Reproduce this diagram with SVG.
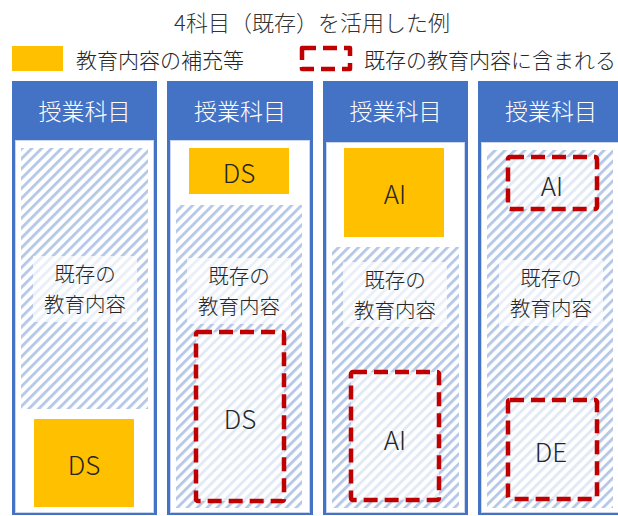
<svg xmlns="http://www.w3.org/2000/svg" width="618" height="516" viewBox="0 0 618 516">
<style>
text{font-family:"Noto Sans CJK JP","Noto Sans",sans-serif;font-weight:300;fill:#262626;text-anchor:middle;dominant-baseline:central}
.hd{fill:#ffffff;font-size:23px}
.lb{font-size:20.5px}
.big{font-size:26px}
.col{fill:#4472C4}
.body{fill:#ffffff;stroke:#C9D6EE;stroke-width:1}
.hatch{fill:url(#hatch)}
.fade{fill:#ffffff;fill-opacity:0.7}
.add{fill:#FFC000}
.inc{fill:#ffffff;fill-opacity:0.6;stroke:#C00000;stroke-width:4.5;stroke-dasharray:14 7;stroke-linejoin:round}
</style>
<defs>
<pattern id="hatch" patternUnits="userSpaceOnUse" width="7" height="7" patternTransform="rotate(45)">
<rect width="7" height="7" fill="#ffffff"/>
<rect x="0" y="0" width="2.8" height="7" fill="#B4C7E7"/>
</pattern>
</defs>
<g id="title"><text x="312" y="21" style="font-size:22px;fill:#333333">4科目（既存）を活用した例</text></g>
<g id="legend">
<rect x="12" y="46" width="51" height="25" class="add"/>
<text x="160" y="59" style="font-size:21px">教育内容の補充等</text>
<rect x="302" y="48" width="48" height="21" fill="none" stroke="#C00000" stroke-width="4.5" stroke-dasharray="14 7" stroke-linejoin="round"/>
<text x="490" y="59" style="font-size:21px">既存の教育内容に含まれる</text>
</g>
<g id="col1">
<rect x="12" y="81" width="145" height="434" class="col"/>
<rect x="15.5" y="140.5" width="138" height="372" class="body"/>
<text x="84.5" y="110" class="hd">授業科目</text>
<rect x="21" y="148" width="127" height="261" class="hatch"/>
<rect x="33" y="256" width="104" height="66" class="fade"/>
<text x="85" y="273" class="lb">既存の</text>
<text x="85" y="303" class="lb">教育内容</text>
<rect x="34" y="419" width="100" height="88" class="add"/>
<text x="84" y="463" class="big">DS</text>
</g>
<g id="col2">
<rect x="167" y="81" width="146" height="434" class="col"/>
<rect x="170.5" y="140.5" width="139" height="372" class="body"/>
<text x="240" y="110" class="hd">授業科目</text>
<rect x="189" y="148" width="100" height="46" class="add"/>
<text x="239" y="171" class="big">DS</text>
<rect x="176" y="205" width="126" height="303" class="hatch"/>
<rect x="187" y="258" width="104" height="66" class="fade"/>
<text x="239" y="275" class="lb">既存の</text>
<text x="239" y="305" class="lb">教育内容</text>
<rect x="196" y="332" width="88" height="169" rx="2" class="inc"/>
<text x="240" y="417" class="big">DS</text>
</g>
<g id="col3">
<rect x="323" y="81" width="145" height="434" class="col"/>
<rect x="326.5" y="142.5" width="138" height="370" class="body"/>
<text x="395.5" y="110" class="hd">授業科目</text>
<rect x="344" y="148" width="100" height="89" class="add"/>
<text x="395" y="192" class="big">AI</text>
<rect x="332" y="247" width="127" height="261" class="hatch"/>
<rect x="343" y="262" width="104" height="65" class="fade"/>
<text x="395" y="279" class="lb">既存の</text>
<text x="395" y="309" class="lb">教育内容</text>
<rect x="351" y="372" width="88" height="128" rx="2" class="inc"/>
<text x="395" y="438" class="big">AI</text>
</g>
<g id="col4">
<rect x="478" y="81" width="145" height="434" class="col"/>
<rect x="481.5" y="142.5" width="138" height="370" class="body"/>
<text x="551" y="110" class="hd">授業科目</text>
<rect x="487" y="150" width="126" height="358" class="hatch"/>
<rect x="508" y="157" width="89" height="52" rx="2" class="inc"/>
<text x="552" y="184" class="big">AI</text>
<rect x="499" y="260" width="104" height="66" class="fade"/>
<text x="551" y="277" class="lb">既存の</text>
<text x="551" y="307" class="lb">教育内容</text>
<rect x="508" y="400" width="89" height="99" rx="2" class="inc"/>
<text x="551" y="450" class="big">DE</text>
</g>
</svg>
